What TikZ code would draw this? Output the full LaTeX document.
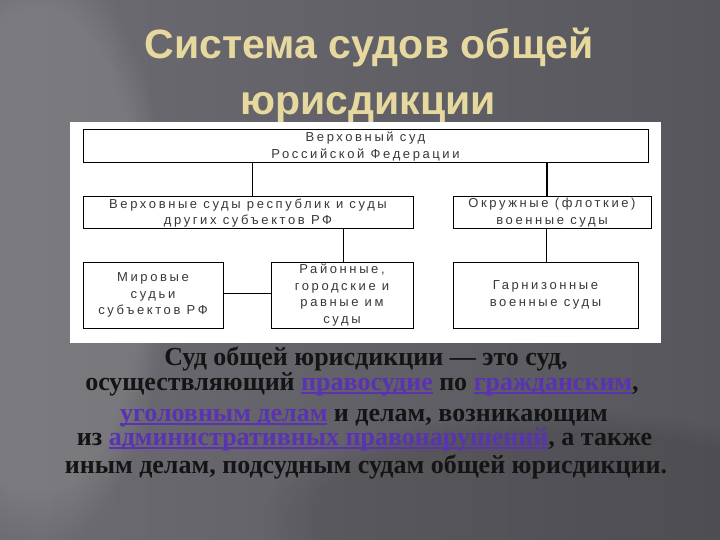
\documentclass[tikz,border=0pt]{standalone}
\usepackage{fontspec}
\usetikzlibrary{fadings}
\newfontfamily\diagfont[LetterSpace=20]{Liberation Sans}
\newfontfamily\titlefont{Liberation Sans}
\newfontfamily\bodyfont{Liberation Serif}
\definecolor{titlecol}{HTML}{E6D89E}
\definecolor{linkcol}{HTML}{5A32B2}
\definecolor{diagtext}{HTML}{383838}
\definecolor{bgleft}{HTML}{6C6C72}
\definecolor{bgright}{HTML}{56565C}
\newcommand{\lnk}[1]{{\color{linkcol}\setbox0\hbox{#1}\rlap{\rule[-3.8pt]{\wd0}{1.5pt}}\box0}}
\begin{document}
\begin{tikzpicture}[x=1pt,y=-1pt,
  box/.style={draw=black,line width=1pt,fill=white,inner sep=0pt,align=center,
    font=\diagfont\fontsize{13}{16.5}\selectfont,text=diagtext},
  conn/.style={draw=black,line width=1pt},
  ttl/.style={font=\titlefont\bfseries\fontsize{41}{46}\selectfont,text=titlecol,anchor=base,inner sep=0pt},
  body/.style={font=\bodyfont\bfseries\fontsize{26}{28}\selectfont,text=black!92,anchor=base,inner sep=0pt}]
\useasboundingbox (0,0) rectangle (720,540);
% background
\shade[left color=bgleft,right color=bgright] (0,0) rectangle (720,540);
\fill[white,opacity=0.10,path fading=circle with fuzzy edge 20 percent] (40,250) ellipse (130 and 300);
\fill[black,opacity=0.10,path fading=circle with fuzzy edge 20 percent] (560,520) ellipse (300 and 110);
% title
\node[ttl] (t1) at (369,59) {Система судов общей};
\node[ttl] (t2) at (368,115) {юрисдикции};
% panel
\fill[white] (70,122) rectangle (661,343);
% boxes
\node[box,minimum width=565pt,minimum height=33pt] (top) at (365.5,146.5) {Верховный суд\\Российской Федерации};
\node[box,minimum width=330pt,minimum height=32pt] (ml) at (248,213) {Верховные суды республик и суды\\других субъектов РФ};
\node[box,minimum width=198pt,minimum height=32pt] (mr) at (552,213) {Окружные (флоткие)\\военные суды\rule[-3pt]{0pt}{0pt}};
\node[box,minimum width=140pt,minimum height=66pt] (b1) at (153,295) {Мировые\\судьи\\субъектов РФ};
\node[box,minimum width=142pt,minimum height=66pt] (b2) at (342,295) {Районные,\\городские и\\равные им\\суды};
\node[box,minimum width=185pt,minimum height=66pt] (b3) at (545.5,295) {Гарнизонные\\военные суды};
% connectors
\coordinate (v1) at (252,0);
\coordinate (v2) at (547,0);
\coordinate (v3) at (343,0);
\coordinate (v4) at (546,0);
\coordinate (h1) at (0,293);
\draw[conn] (top.south -| v1) -- (ml.north -| v1);
\draw[conn,line width=1.6pt] (top.south -| v2) -- (mr.north -| v2);
\draw[conn] (ml.south -| v3) -- (b2.north -| v3);
\draw[conn] (mr.south -| v4) -- (b3.north -| v4);
\draw[conn] (b1.east |- h1) -- (b2.west |- h1);
% body text
\node[body] (l1) at (366,365) {Суд общей юрисдикции — это суд,};
\node[body] (l2) at (362,390) {осуществляющий \lnk{правосудие} по \lnk{гражданским},};
\node[body] (l3) at (364,421) {\lnk{уголовным делам} и делам, возникающим};
\node[body] (l4) at (364.5,445) {из \lnk{административных правонарушений}, а также};
\node[body] (l5) at (366,473) {иным делам, подсудным судам общей юрисдикции.};
\end{tikzpicture}
\end{document}
